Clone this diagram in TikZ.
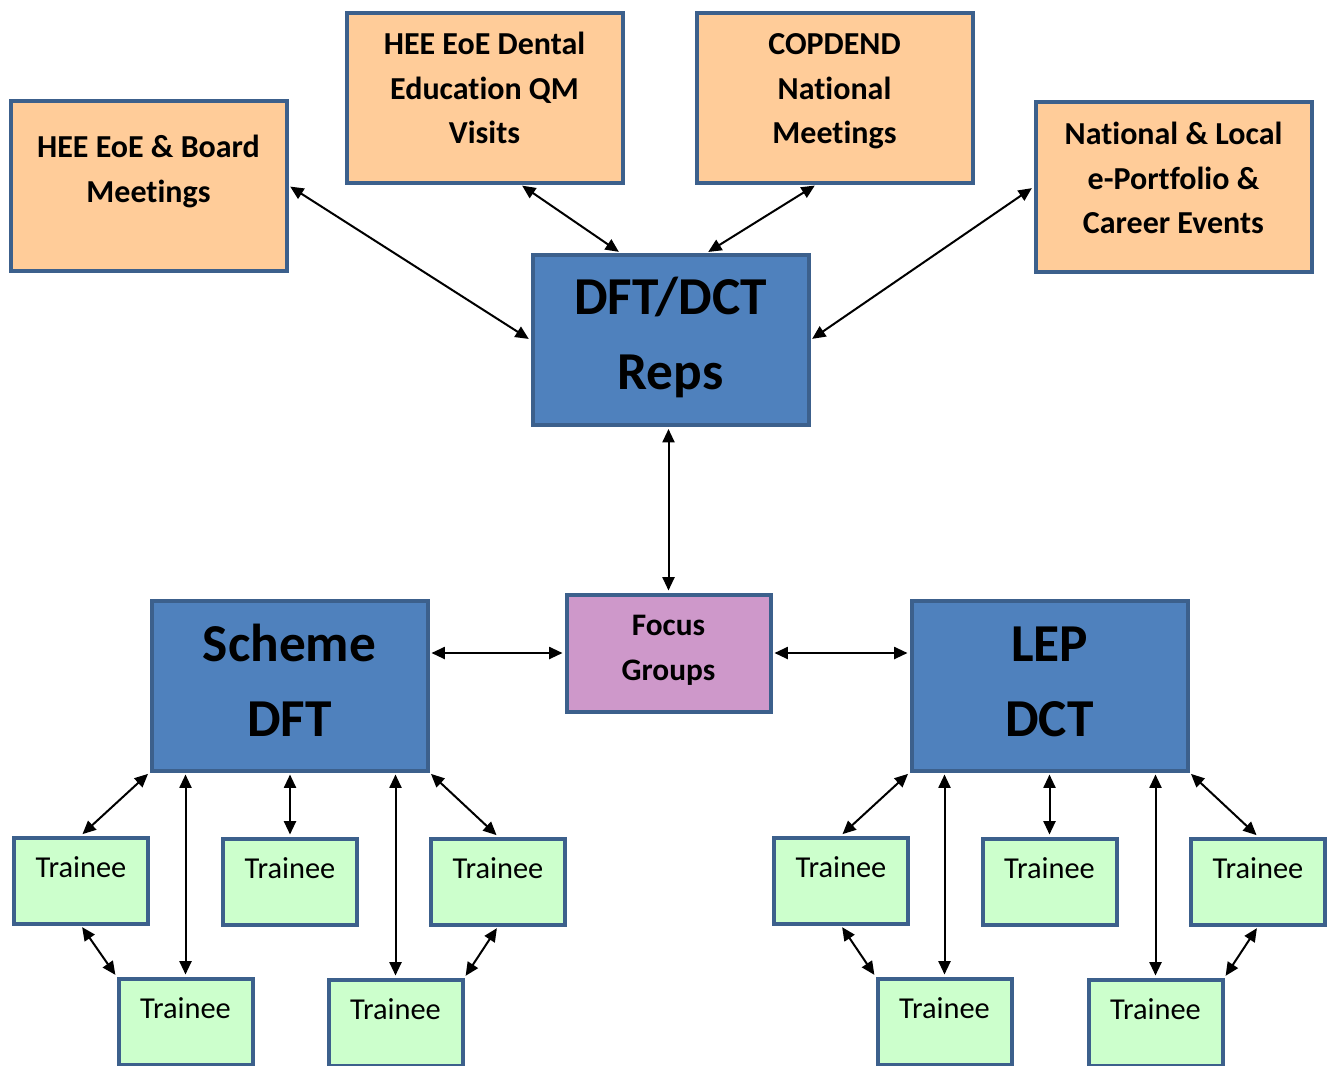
\documentclass[tikz,border=0pt]{standalone}
\usepackage{fontspec}
\setmainfont{Carlito}[Ligatures=NoCommon]
\usetikzlibrary{arrows.meta,calc}
\definecolor{edge}{RGB}{60,96,140}
\definecolor{peach}{RGB}{255,204,153}
\definecolor{steel}{RGB}{79,129,189}
\definecolor{lilac}{RGB}{206,152,202}
\definecolor{mint}{RGB}{204,255,204}
\newcommand{\upstrut}[1]{\rule{0pt}{#1}}
\newcommand{\dnstrut}[1]{\rule[-#1]{0pt}{#1}}
\begin{document}
\begin{tikzpicture}[x=0.75pt,y=-0.75pt,
	box/.style={draw=edge,line width=3pt,inner sep=0pt,align=center},
	meeting/.style={box,fill=peach,minimum width=207pt,minimum height=127.5pt,font=\bfseries\fontsize{24}{33.5}\selectfont},
	rep/.style={box,fill=steel,minimum width=207pt,minimum height=127.5pt,font=\bfseries\fontsize{40}{56.5}\selectfont},
	focusbox/.style={box,fill=lilac,minimum width=153pt,minimum height=87.75pt,font=\bfseries\fontsize{23.5}{33.75}\selectfont},
	trainee/.style={box,fill=mint,minimum width=100.5pt,minimum height=64.5pt,font=\fontsize{22.8}{26}\selectfont,text height=16.5pt,text depth=21.75pt},
	link/.style={{Triangle[length=10pt,width=9pt]}-{Triangle[length=10pt,width=9pt]},line width=1.5pt,shorten <=1.5pt,shorten >=1.5pt}]
	\useasboundingbox (0,0) rectangle (1329,1065);
	\clip (0,0) rectangle (1329,1065);
	\node[meeting] (board) at (148.5,185.5) {\upstrut{19.5pt}HEE EoE \& Board\\Meetings\dnstrut{27.3pt}};
	\node[meeting] (dental) at (484.5,97.5) {\upstrut{19.5pt}HEE EoE Dental\\Education QM\\Visits\dnstrut{17.25pt}};
	\node[meeting] (copdend) at (834.5,97.5) {\upstrut{19.5pt}COPDEND\\National\\Meetings\dnstrut{17.25pt}};
	\node[meeting] (events) at (1173.5,187) {\upstrut{19.5pt}National \& Local\\e-Portfolio \&\\Career Events\dnstrut{16.5pt}};
	\node[rep] (reps) at (670.5,340) {\upstrut{33.75pt}DFT/DCT\\Reps\dnstrut{15.5pt}};
	\node[focusbox] (focus) at (668.5,653) {\upstrut{18pt}Focus\\Groups\dnstrut{11.25pt}};
	\node[rep] (scheme) at (289.5,685.5) {\upstrut{33.75pt}Scheme\\DFT\dnstrut{13.7pt}};
	\node[rep] (lep) at (1049.5,685.5) {\upstrut{33.75pt}LEP\\DCT\dnstrut{13.7pt}};
	\node[trainee] (s1) at (81,880.5) {Trainee};
	\node[trainee] (s2) at (290,881.5) {Trainee};
	\node[trainee] (s3) at (498,881.5) {Trainee};
	\node[trainee] (s4) at (185.5,1021.5) {Trainee};
	\node[trainee] (s5) at (395.5,1022.5) {Trainee};
	\node[trainee] (l1) at (841,880.5) {Trainee};
	\node[trainee] (l2) at (1049.5,881.5) {Trainee};
	\node[trainee] (l3) at (1258,881.5) {Trainee};
	\node[trainee] (l4) at (944.5,1021.5) {Trainee};
	\node[trainee] (l5) at (1155.5,1022.5) {Trainee};
	\draw[link] (board.east) -- (reps.west);
	\draw[link] ($(dental.south)+(36,0)$) -- ($(reps.north)+(-50,0)$);
	\draw[link] ($(copdend.south)+(-18,0)$) -- ($(reps.north)+(36,0)$);
	\draw[link] (events.west) -- (reps.east);
	\draw[link] (reps.south -| focus.north) -- (focus.north);
	\draw[link] (focus.west -| scheme.east) -- (focus.west);
	\draw[link] (focus.east) -- (focus.east -| lep.west);
	\draw[link] (scheme.south west) -- (s1.north);
	\draw[link] (s4.north |- scheme.south) -- (s4.north);
	\draw[link] (s2.north |- scheme.south) -- (s2.north);
	\draw[link] (s5.north |- scheme.south) -- (s5.north);
	\draw[link] (scheme.south east) -- (s3.north);
	\draw[link] (s1.south) -- (s4.north west);
	\draw[link] (s3.south) -- (s5.north east);
	\draw[link] (lep.south west) -- (l1.north);
	\draw[link] (l4.north |- lep.south) -- (l4.north);
	\draw[link] (l2.north |- lep.south) -- (l2.north);
	\draw[link] (l5.north |- lep.south) -- (l5.north);
	\draw[link] (lep.south east) -- (l3.north);
	\draw[link] (l1.south) -- (l4.north west);
	\draw[link] (l3.south) -- (l5.north east);
\end{tikzpicture}
\end{document}
